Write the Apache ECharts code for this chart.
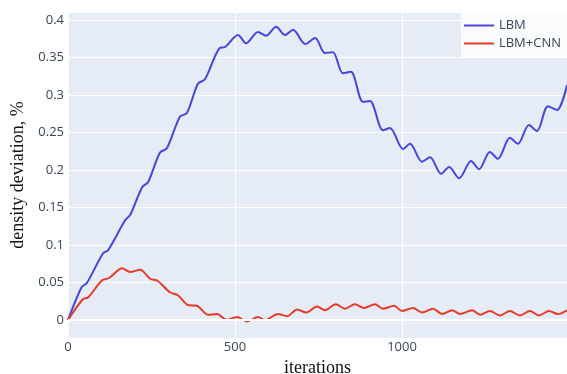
<!DOCTYPE html>
<html>
<head>
<meta charset="utf-8">
<script src="https://cdn.jsdelivr.net/npm/echarts@6/dist/echarts.min.js"></script>
<style>
  html, body { margin: 0; padding: 0; background: #ffffff; }
  #chart { width: 567px; height: 374px; }
</style>
</head>
<body>
<div id="chart"></div>
<script>
// Density deviation (%) against iteration count, plain LBM vs LBM+CNN
const seriesNames = ['LBM', 'LBM+CNN'];

const iterLbm = [0, 41, 56, 105, 120, 171, 186, 222, 240, 275, 296, 335, 356, 389, 410,
  455, 470, 509, 533, 569, 593, 623, 650, 674, 710, 740, 769, 793, 823, 847, 883, 904,
  943, 964, 1003, 1024, 1060, 1084, 1117, 1141, 1171, 1207, 1231, 1263, 1287, 1323,
  1347, 1380, 1404, 1437, 1464, 1494];
const lbm = [0, 0.044, 0.049, 0.089, 0.093, 0.133, 0.140, 0.177, 0.184, 0.223, 0.229,
  0.271, 0.276, 0.315, 0.321, 0.363, 0.364, 0.380, 0.369, 0.384, 0.379, 0.391, 0.380,
  0.387, 0.368, 0.376, 0.356, 0.357, 0.329, 0.331, 0.291, 0.292, 0.253, 0.256, 0.228,
  0.235, 0.211, 0.217, 0.195, 0.204, 0.189, 0.212, 0.201, 0.224, 0.215, 0.243, 0.235,
  0.260, 0.252, 0.285, 0.280, 0.313];

const iterCnn = [0, 45, 60, 102, 123, 162, 186, 216, 246, 269, 305, 329, 359, 386, 419,
  446, 476, 506, 536, 569, 590, 629, 656, 686, 713, 746, 769, 802, 829, 859, 886, 919,
  943, 976, 1000, 1033, 1060, 1093, 1120, 1150, 1174, 1210, 1234, 1263, 1293, 1323,
  1353, 1383, 1410, 1440, 1467, 1494];
const lbmCnn = [0, 0.028, 0.030, 0.053, 0.056, 0.069, 0.064, 0.067, 0.055, 0.052, 0.037,
  0.033, 0.020, 0.019, 0.007, 0.008, 0.000, 0.004, -0.002, 0.004, 0.000, 0.008, 0.005,
  0.014, 0.010, 0.018, 0.013, 0.021, 0.015, 0.021, 0.016, 0.021, 0.015, 0.019, 0.012,
  0.016, 0.010, 0.015, 0.008, 0.013, 0.008, 0.013, 0.007, 0.012, 0.006, 0.012, 0.006,
  0.012, 0.006, 0.012, 0.008, 0.013];

const xTicks = [0, 500, 1000];
const yTicks = [0, 0.05, 0.1, 0.15, 0.2, 0.25, 0.3, 0.35, 0.4];

const pairs = (xs, ys) => xs.map((x, i) => [x, ys[i]]);
const near = (v, list) => list.some(t => Math.abs(v - t) < 1e-6);

const tickFont = { fontFamily: '"Open Sans", sans-serif', fontSize: 13, color: '#3a4658' };
const titleFont = { fontFamily: '"Liberation Serif", "Times New Roman", serif', fontSize: 18, color: '#111111' };

const chart = echarts.init(document.getElementById('chart'), null, { renderer: 'canvas' });
chart.setOption({
  animation: false,
  grid: {
    left: 68, right: 0, top: 12, bottom: 36,
    outerBoundsMode: 'none', containLabel: false,
    show: true, backgroundColor: '#e5ecf6', borderWidth: 0
  },
  legend: {
    data: seriesNames,
    orient: 'vertical',
    right: 0, top: 13,
    padding: [6, 6, 7, 3],
    itemGap: 5,
    itemWidth: 30, itemHeight: 2,
    icon: 'rect',
    backgroundColor: 'rgba(255,255,255,0.78)',
    textStyle: { fontFamily: '"Open Sans", sans-serif', fontSize: 13, color: '#3a4658' }
  },
  xAxis: {
    type: 'value',
    min: 0, max: 1494, splitNumber: 3,
    name: 'iterations', nameLocation: 'middle', nameGap: 17,
    nameTextStyle: titleFont,
    axisLine: { show: false }, axisTick: { show: false },
    axisLabel: Object.assign({
      margin: 3,
      formatter: v => near(v, xTicks) ? String(v) : ''
    }, tickFont),
    splitLine: { show: true, lineStyle: { color: '#ffffff', width: 1 } }
  },
  yAxis: {
    type: 'value',
    min: -0.024, max: 0.4107, splitNumber: 9,
    name: 'density deviation, %', nameLocation: 'middle', nameGap: 34,
    nameTextStyle: titleFont,
    axisLine: { show: false }, axisTick: { show: false },
    axisLabel: Object.assign({
      margin: 4,
      formatter: v => near(v, yTicks) ? String(Math.round(v * 100) / 100) : ''
    }, tickFont),
    splitLine: { show: true, lineStyle: { color: '#ffffff', width: 1 } }
  },
  series: [
    {
      name: seriesNames[0], type: 'line', smooth: 0.3,
      data: pairs(iterLbm, lbm), showSymbol: false,
      color: '#4646d9', lineStyle: { width: 2, color: '#4646d9' },
      markLine: {
        silent: true, symbol: 'none', label: { show: false },
        lineStyle: { color: '#ffffff', width: 2, type: 'solid' },
        data: [{ yAxis: 0 }]
      },
      z: 3
    },
    {
      name: seriesNames[1], type: 'line', smooth: 0.3,
      data: pairs(iterCnn, lbmCnn), showSymbol: false,
      color: '#e53b2b', lineStyle: { width: 2, color: '#e53b2b' },
      z: 4
    }
  ]
});
</script>
</body>
</html>
